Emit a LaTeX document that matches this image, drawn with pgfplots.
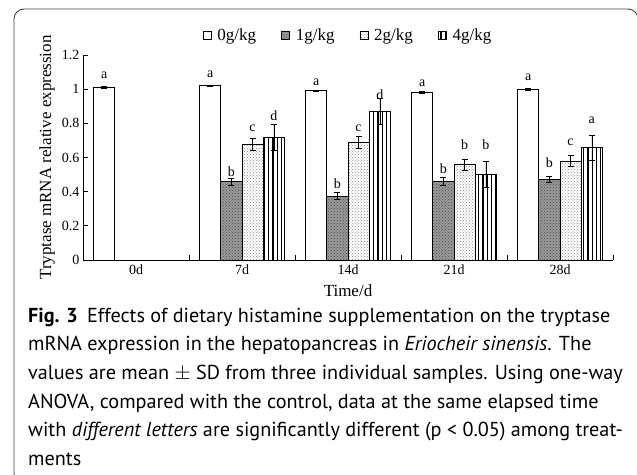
\documentclass[border=0pt]{standalone}
\usepackage{fontspec}
\setmainfont{Liberation Serif}
\newfontfamily\capfont{PT Sans}
\usepackage{pgfplots}
\usepackage{pgfplotstable}
\pgfplotsset{compat=1.18}
\usetikzlibrary{patterns,patterns.meta}

\pgfplotstableread{
x y e
0 1.010 0.005
1 1.020 0.005
2 0.990 0.005
3 0.980 0.005
4 1.000 0.005
}\tzero
\pgfplotstableread{
x y e
1 0.458 0.020
2 0.374 0.020
3 0.462 0.022
4 0.472 0.020
}\tone
\pgfplotstableread{
x y e
1 0.675 0.035
2 0.688 0.035
3 0.560 0.032
4 0.579 0.033
}\ttwo
\pgfplotstableread{
x y e
1 0.717 0.075
2 0.871 0.076
3 0.501 0.078
4 0.657 0.075
}\tfour

\pgfplotsset{sqlegend/.style={legend image code/.code={\draw[##1, line width=0.7pt] (0pt,-4pt) rectangle (8pt,4pt);}}}

\begin{document}
\begin{tikzpicture}
\useasboundingbox (0pt,0pt) rectangle (637pt,-474pt);
\draw[black!75, line width=0.9pt] (24pt,-484pt) arc[start angle=270,end angle=180,radius=10pt] -- (14pt,-19pt) arc[start angle=180,end angle=90,radius=10pt] -- (628pt,-9pt) arc[start angle=90,end angle=0,radius=10pt] -- (638pt,-30pt);
\begin{axis}[
  at={(83pt,-260pt)}, anchor=south west,
  scale only axis, width=530pt, height=205pt,
  xmin=-0.5, xmax=4.5, ymin=0, ymax=1.2,
  axis lines*=left,
  axis line style={line width=0.8pt},
  ybar=0pt, bar width=21.2pt,
  xtick={0,1,2,3,4}, xticklabels={0d,7d,14d,21d,28d},
  major x tick style={draw=none},
  minor xtick={0.5,1.5,2.5,3.5,4.5},
  ytick={0,0.2,0.4,0.6,0.8,1,1.2},
  tick align=inside, major tick length=5pt, minor tick length=5pt,
  tick style={black, line width=0.7pt},
  /pgf/number format/assume math mode=true,
  tick label style={font=\fontsize{14}{16}\selectfont},
  xticklabel style={yshift=-1.5pt},
  ylabel={Tryptase mRNA relative expression},
  xlabel={Time/d},
  label style={font=\fontsize{17}{19}\selectfont},
  ylabel style={at={(axis description cs:-0.0679,0.5)}, anchor=center},
  xlabel style={at={(axis description cs:0.5,-0.1756)}, anchor=base},
  legend columns=4,
  legend style={draw=none, fill=none, at={(axis description cs:0.5,1.0976)}, anchor=center,
    font=\fontsize{17}{19}\selectfont,
    /tikz/every odd column/.append style={column sep=4pt},
    /tikz/every even column/.append style={column sep=23pt}},
  error bars/y dir=both, error bars/y explicit,
  error bars/error bar style={black, line width=0.6pt},
  error bars/error mark options={black, rotate=90, mark size=3pt, line width=0.6pt},
]
\addplot[sqlegend, draw=black, line width=0.8pt, fill=white] table[x=x,y=y,y error=e]{\tzero};
\addplot[sqlegend, draw=black, line width=0.8pt, fill=black!40, postaction={pattern=crosshatch dots, pattern color=black!70}] table[x=x,y=y,y error=e]{\tone};
\addplot[sqlegend, draw=black, line width=0.8pt, fill=white, postaction={pattern=crosshatch dots, pattern color=black!45}] table[x=x,y=y,y error=e]{\ttwo};
\addplot[sqlegend, draw=black, line width=0.8pt, fill=white, postaction={pattern={Lines[angle=90, distance=4.2pt, line width=1.3pt]}, pattern color=black}] table[x=x,y=y,y error=e]{\tfour};
\legend{0g/kg,1g/kg,2g/kg,4g/kg}
\begin{scope}[every node/.style={font=\fontsize{14}{16}\selectfont, inner sep=0pt}]
\node at (axis cs:-0.3,1.082) {a};
\node at (axis cs:0.7,1.088) {a};
\node at (axis cs:0.9,0.516) {b};
\node at (axis cs:1.1,0.770) {c};
\node at (axis cs:1.3,0.842) {d};
\node at (axis cs:1.7,1.043) {a};
\node at (axis cs:1.9,0.448) {b};
\node at (axis cs:2.1,0.770) {c};
\node at (axis cs:2.3,0.965) {d};
\node at (axis cs:2.7,1.033) {a};
\node at (axis cs:2.9,0.536) {b};
\node at (axis cs:3.1,0.672) {b};
\node at (axis cs:3.3,0.672) {b};
\node at (axis cs:3.7,1.072) {a};
\node at (axis cs:3.9,0.569) {b};
\node at (axis cs:4.1,0.692) {c};
\node at (axis cs:4.3,0.819) {a};
\end{scope}
\end{axis}
\begin{scope}[every node/.style={anchor=base west, inner sep=0pt, font=\capfont\fontsize{20.2}{24}\selectfont}]
\node at (28pt,-322pt) {\textbf{Fig. 3}\hspace{0.45em}Effects of dietary histamine supplementation on the tryptase};
\node at (28pt,-350.7pt) {mRNA expression in the hepatopancreas in \textit{Eriocheir sinensis}. The};
\node at (28pt,-379.4pt) {values are mean $\pm$ SD from three individual samples. Using one-way};
\node at (28pt,-408.1pt) {ANOVA, compared with the control, data at the same elapsed time};
\node at (28pt,-436.8pt) {with \textit{different letters} are significantly different (p < 0.05) among treat-};
\node at (28pt,-465.5pt) {ments};
\end{scope}
\end{tikzpicture}
\end{document}
